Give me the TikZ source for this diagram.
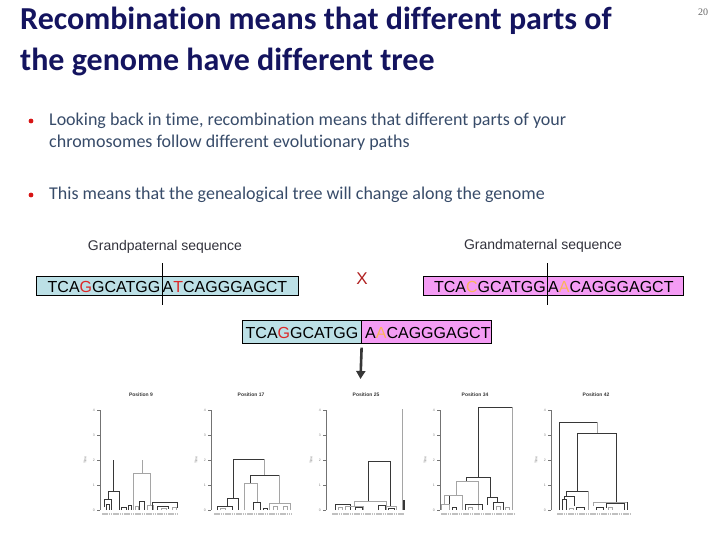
\documentclass[tikz,border=0pt]{standalone}
\usepackage{fontspec}
\setmainfont{Carlito}[Ligatures=NoCommon]
\newfontfamily\arialf{Liberation Sans}
\newfontfamily\timesf{Liberation Serif}
\usetikzlibrary{arrows.meta}
\definecolor{titlec}{RGB}{20,20,95}
\definecolor{bodyc}{RGB}{55,75,105}
\definecolor{bulc}{RGB}{215,20,20}
\definecolor{seqblue}{RGB}{188,224,230}
\definecolor{seqpink}{RGB}{244,156,244}
\definecolor{mutred}{RGB}{220,40,40}
\definecolor{mutorg}{RGB}{250,180,90}
\definecolor{treedk}{RGB}{55,55,55}
\definecolor{treelt}{RGB}{165,165,165}
\definecolor{labc}{RGB}{50,50,60}
\tikzset{
  dk/.style={draw=treedk, line width=0.8pt},
  lt/.style={draw=treelt, line width=0.8pt},
  seqtxt/.style={inner sep=0pt, font=\arialf\fontsize{16}{18}\selectfont},
  seqlab/.style={inner sep=0pt, font=\arialf\fontsize{14}{16}\selectfont, text=labc},
  bodytxt/.style={anchor=base west, inner sep=0pt, font=\fontsize{18}{21}\selectfont, text=bodyc},
  titletxt/.style={anchor=base west, inner sep=0pt, font=\fontsize{32}{38}\selectfont\bfseries, text=titlec},
  seqbox/.style={draw=black, line width=0.6pt, inner sep=0pt, anchor=north west},
  tick/.style={draw=treedk!70, line width=0.4pt},
  ticklab/.style={inner sep=0pt, font=\arialf\fontsize{3.5}{4}\selectfont, text=gray},
  ptitle/.style={inner sep=0pt, font=\arialf\bfseries\fontsize{5}{6}\selectfont, text=treedk},
  leafband/.style={draw=treelt!70, line width=2.5pt, dash pattern=on 1.6pt off 0.6pt}
}
\newcommand\treeaxis[4]{% #1 axis x, #2 title x, #3 title, #4 name
  \draw[tick] (#1,410) -- (#1,510);
  \foreach \yy/\lab in {410/4,435/3,460/2,485/1,510/0}{
    \draw[tick] (#1,\yy) -- ++(-3,0);
    \node[ticklab, anchor=east] at (#1-5,\yy) {\lab};
  }
  \node[ticklab, rotate=90] (#4y) at (#1-15,460) {Time};
  \node[ptitle] (#4t) at (#2,395) {#3};
}
\begin{document}
\begin{tikzpicture}[x=1pt,y=-1pt]
\useasboundingbox (0,0) rectangle (720,540);
% title
\node[titletxt] (t1) at (20,30) {Recombination means that different parts of};
\node[titletxt] (t2) at (20,71) {the genome have different tree};
\node[inner sep=0pt, font=\timesf\fontsize{10}{12}\selectfont, text=gray!80!black] (pg) at (703,12) {20};
% bullets
\fill[bulc] (31,121) circle (2.4);
\node[bodytxt] (b1) at (49,126) {Looking back in time, recombination means that different parts of your};
\node[bodytxt] (b1b) at (49,148) {chromosomes follow different evolutionary paths};
\fill[bulc] (31,195) circle (2.4);
\node[bodytxt] (b2) at (49,200) {This means that the genealogical tree will change along the genome};
% sequence labels
\node[seqlab] (gpl) at (165,247) {Grandpaternal sequence};
\node[seqlab] (gml) at (543,246) {Grandmaternal sequence};
% grandpaternal
\node[seqbox, fill=seqblue, minimum width=262pt, minimum height=19pt] (gpbox) at (36,276) {};
\node[seqtxt, anchor=base east] (gpL) at (160.5,292) {TCA\textcolor{mutred}{G}GCATGG};
\node[seqtxt, anchor=base west] (gpR) at (162.5,292) {A\textcolor{mutred}{T}CAGGGAGCT};
\draw[line width=0.6pt] (162,263) -- (162,305);
% X
\node[inner sep=0pt, font=\arialf\fontsize{17}{18}\selectfont, text=mutred!80!black] (xx) at (362,279) {X};
% grandmaternal
\node[seqbox, fill=seqpink, minimum width=260pt, minimum height=19pt] (gmbox) at (423,276) {};
\node[seqtxt, anchor=base east] (gmL) at (546,292) {TCA\textcolor{mutorg}{C}GCATGG};
\node[seqtxt, anchor=base west] (gmR) at (548,292) {A\textcolor{mutorg}{A}CAGGGAGCT};
\draw[line width=0.6pt] (547,263) -- (547,305);
% recombinant
\node[seqbox, fill=seqblue, minimum width=119pt, minimum height=23pt] (rbL) at (242,320) {};
\node[seqbox, fill=seqpink, minimum width=130pt, minimum height=23pt] (rbR) at (361,320) {};
\node[seqtxt, anchor=base east] (rL) at (358.5,338) {TCA\textcolor{mutred}{G}GCATGG};
\node[seqtxt, anchor=base west] (rR) at (365,338) {A\textcolor{mutorg}{A}CAGGGAGCT};
\coordinate (arrEnd) at (360.5,379);
\draw[draw=treedk, line width=2.6pt, -{Triangle[width=9pt,length=8pt]}] ([yshift=-4pt]rbL.south east) -- (arrEnd);
% tree panels
\treeaxis{100}{141}{Position 9}{p1}
\treeaxis{211}{251}{Position 17}{p2}
\treeaxis{326}{366}{Position 25}{p3}
\treeaxis{440}{475}{Position 34}{p4}
\treeaxis{551}{596}{Position 42}{p5}
\foreach \a/\b in {102/178,214/292,332/404,441/514,557/630}{\draw[leafband] (\a,514) -- (\b,514);}
% panel 1
\draw[dk] (113,460) -- (113,491);
\draw[dk] (108,499) |- (119,491) -- (119,510);
\draw[dk] (104,507) |- (111,499) -- (111,510);
\draw[dk] (106,510) |- (109,504) -- (109,510);
\draw[dk] (121,510) |- (126,507) -- (126,510);
\draw[dk] (128,510) |- (131,505) -- (131,510);
\draw[lt] (142,460) -- (142,473);
\draw[lt] (133,510) |- (150,473) -- (150,505);
\draw[dk] (139,510) |- (144,501) -- (144,510);
\draw[lt] (135,510) |- (138,506) -- (138,510);
\draw[lt] (147,510) |- (153,505) -- (153,510);
\draw[dk] (152,510) |- (177,502) -- (177,508);
\draw[dk] (157,510) |- (168,506) -- (168,509);
\draw[lt] (161,510) |- (166,508) -- (166,510);
\draw[lt] (172,510) |- (176,507) -- (176,510);
% panel 2
\draw[dk] (233,498) |- (264,459);
\draw[lt] (264,459) -- (264,475);
\draw[dk] (250,483) |- (279,475);
\draw[lt] (279,475) -- (279,503);
\draw[lt] (244,510) |- (257,483) -- (257,502);
\draw[dk] (253,510) |- (260,502) -- (260,510);
\draw[dk] (227,506) |- (238,498) -- (238,510);
\draw[dk] (217,510) |- (232,506) -- (232,510);
\draw[lt] (220,510) |- (225,508) -- (225,510);
\draw[dk] (263,510) |- (267,508) -- (267,510);
\draw[lt] (269,510) |- (290,503) -- (290,510);
\draw[lt] (273,510) |- (277,506) -- (277,510);
\draw[lt] (283,510) |- (287,506) -- (287,510);
% panel 3
\draw[lt] (402,409) -- (402,510);
\draw[dk, line width=1.6pt] (404,500) -- (404,510);
\draw[dk] (368,501) |- (390,461) -- (390,506);
\draw[lt] (354,506) |- (386,501) -- (386,506);
\draw[dk] (335,510) |- (350,504) -- (350,510);
\draw[lt] (345,510) |- (363,506) -- (363,510);
\draw[dk] (355,510) |- (362,507) -- (362,510);
\draw[dk] (378,510) |- (385,505) -- (385,510);
\draw[lt] (386,510) |- (396,506) -- (396,510);
\draw[dk] (388,510) |- (394,508) -- (394,510);
\draw[lt] (338,510) |- (342,507) -- (342,510);
% panel 4
\draw[dk] (478,477) |- (512,407);
\draw[lt] (512,407) -- (512,510);
\draw[dk] (466,481) |- (490,477) -- (490,497);
\draw[lt] (456,495) |- (478,481) -- (478,510);
\draw[lt] (444,504) |- (462,495) -- (462,510);
\draw[dk] (449,496) -- (449,504);
\draw[lt] (441,510) |- (449,504) -- (449,510);
\draw[dk] (487,505) |- (497,497) -- (497,502);
\draw[dk] (493,510) |- (503,502) -- (503,510);
\draw[lt] (496,510) |- (500,506) -- (500,510);
\draw[lt] (505,510) |- (509,507) -- (509,510);
\draw[dk] (465,510) |- (482,504) -- (482,510);
\draw[dk] (452,510) |- (456,507) -- (456,510);
\draw[lt] (468,510) |- (472,507) -- (472,510);
% panel 5
\draw[dk] (559,510) |- (597,422);
\draw[lt] (597,422) -- (597,433);
\draw[dk] (577,491) |- (616,433) -- (616,503);
\draw[dk] (566,496) |- (588,491);
\draw[lt] (588,491) -- (588,510);
\draw[dk] (564,499) |- (574,496) -- (574,506);
\draw[dk] (562,510) |- (566,499) -- (566,510);
\draw[lt] (593,506) |- (627,502);
\draw[dk] (627,502) -- (627,510);
\draw[dk] (606,508) |- (624,503) -- (624,510);
\draw[dk] (596,510) |- (603,507) -- (603,510);
\draw[lt] (608,510) |- (612,507) -- (612,510);
\draw[dk] (576,510) |- (584,507) -- (584,510);
\draw[lt] (569,510) |- (573,508) -- (573,510);
\end{tikzpicture}
\end{document}
